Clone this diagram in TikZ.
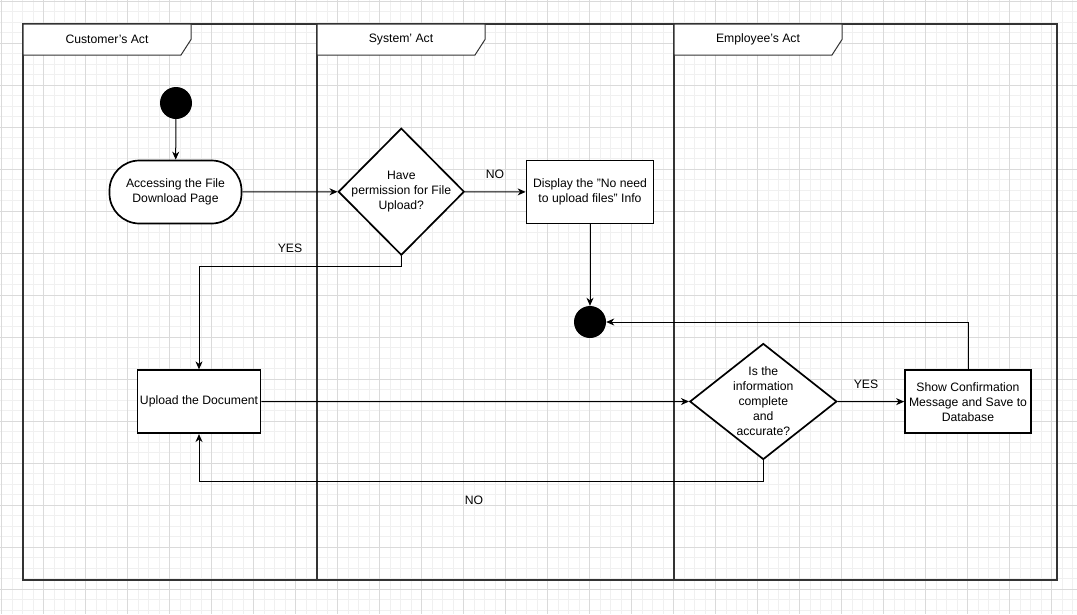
\documentclass[tikz,border=0pt]{standalone}
\usepackage{fontspec}
\setmainfont{Liberation Sans}
\usetikzlibrary{arrows.meta,shapes.geometric}
\newcommand\dfont{\fontsize{12.2pt}{15pt}\selectfont}
\definecolor{gridmajor}{HTML}{DADADA}
\definecolor{gridminor}{HTML}{F0F0F0}
\definecolor{lanecol}{HTML}{333333}
\tikzset{
  shapebox/.style={draw, line width=1.7pt, fill=white, minimum width=126pt, minimum height=63pt, inner sep=1pt, align=center, font=\dfont},
  decshape/.style={diamond, draw, line width=1.7pt, fill=white, inner sep=0pt},
  dtext/.style={align=center, font=\dfont, inner sep=0pt},
  dot/.style={circle, fill=black, minimum size=32pt, inner sep=0pt},
  arr/.style={line width=1pt, -{Stealth[length=8pt,width=7pt,inset=2.5pt]}},
  elabel/.style={font=\dfont, inner sep=0pt},
  lanelabel/.style={draw=lanecol, line width=1pt, fill=white},
  lanetext/.style={font=\dfont, inner sep=0pt}
}
\begin{document}
\begin{tikzpicture}[x=1pt,y=-1pt]
\useasboundingbox (0,0) rectangle (1077,614);
\fill[white] (0,0) rectangle (1077,614);
% grid
\foreach \i in {0,...,102} {
  \draw[gridminor, line width=1pt] ({1.7+10.5*\i},0) -- ({1.7+10.5*\i},614);
}
\foreach \i in {0,...,58} {
  \draw[gridminor, line width=1pt] (0,{1.3+10.5*\i}) -- (1077,{1.3+10.5*\i});
}
\foreach \i in {0,...,25} {
  \draw[gridmajor, line width=1pt] ({1.7+42*\i},0) -- ({1.7+42*\i},614);
}
\foreach \i in {0,...,14} {
  \draw[gridmajor, line width=1pt] (0,{1.3+42*\i}) -- (1077,{1.3+42*\i});
}
% pool and lanes
\draw[lanecol, line width=1.2pt] (23,24) rectangle (1057,580);
\draw[lanecol, line width=1.2pt] (317,24) -- (317,580);
\draw[lanecol, line width=1.2pt] (674,24) -- (674,580);
\foreach \x/\t/\n in {23/{Customer's Act}/la, 317/{System' Act}/lb, 674/{Employee's Act}/lc} {
  \draw[lanelabel] (\x,24) -- ({\x+168},24) -- ({\x+168},39.5) -- ({\x+158},55) -- (\x,55) -- cycle;
  \node[lanetext] (\n) at ({\x+84},39.5) {\t};
}
% nodes
\node[dot] (start) at (176,103) {};
\node[shapebox, rounded corners=30pt, minimum width=132pt] (acc) at (175.5,192) {Accessing the File\\Download Page};
\node[decshape, minimum width=126pt, minimum height=127pt] (d1) at (401.3,191.7) {};
\node[dtext] (d1t) at (d1) {Have\\permission for File\\Upload?};
\node[shapebox, minimum width=127pt] (nofile) at (590,192) {Display the "No need\\to upload files" Info};
\node[dot] (end) at (590,322) {};
\node[shapebox, minimum width=123pt] (upload) at (199,401.7) {Upload the Document};
\node[decshape, minimum width=147pt, minimum height=116pt] (d2) at (763.3,401.5) {};
\node[dtext] (d2t) at (d2) {Is the\\information\\complete\\and\\accurate?};
\node[shapebox] (confirm) at (968,401.7) {Show Confirmation\\Message and Save to\\Database};
% edges
\draw[arr] (start) -- (acc);
\draw[arr] (acc) -- (d1);
\draw[arr] (d1) -- (nofile);
\draw[arr] (nofile) -- (end);
\draw[arr] (d1.south) -- ++(0,10) -| (upload.north);
\draw[arr] (upload) -- (d2);
\draw[arr] (d2) -- (confirm);
\draw[arr] (confirm.north) |- (end);
\draw[arr] (d2.south) -- ++(0,21) -| (upload.south);
% edge labels
\node[elabel] (lno1) at (495,174) {NO};
\node[elabel] (lyes1) at (290,248) {YES};
\node[elabel] (lyes2) at (866,384) {YES};
\node[elabel] (lno2) at (474,500) {NO};
\end{tikzpicture}
\end{document}
